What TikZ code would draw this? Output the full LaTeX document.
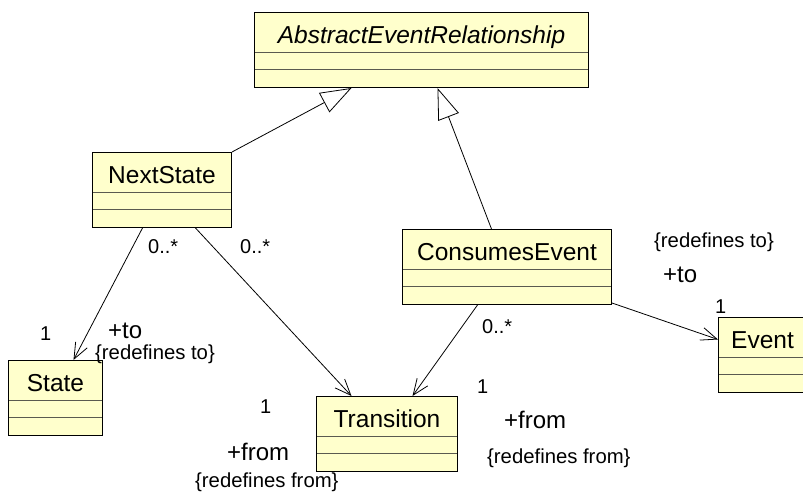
\documentclass[tikz,border=0pt]{standalone}
\usepackage{fontspec}
\setmainfont{Liberation Sans}
\usetikzlibrary{arrows.meta}
\definecolor{UmlFill}{HTML}{FFFFCC}
\definecolor{UmlLine}{HTML}{5A5A50}

\begin{document}
\begin{tikzpicture}[
  x=1pt, y=-1pt,
  cls/.style={draw=black,line width=1pt,fill=UmlFill,anchor=north west,inner sep=0pt,
    text height=31pt,text depth=44pt,font=\fontsize{24.5}{29}\selectfont,
    path picture={
      \draw[UmlLine,line width=0.8pt] ([yshift=35pt]path picture bounding box.south west) -- ([yshift=35pt]path picture bounding box.south east);
      \draw[UmlLine,line width=0.8pt] ([yshift=18pt]path picture bounding box.south west) -- ([yshift=18pt]path picture bounding box.south east);}},
  gen/.style={-{Triangle[open,length=31pt,width=22pt,fill=white]},line width=0.8pt},
  assoc/.style={-{Straight Barb[length=16pt,width=13pt]},line width=0.8pt},
  mult/.style={anchor=base west,inner sep=0pt,font=\fontsize{20}{24}\selectfont},
  role/.style={anchor=base west,inner sep=0pt,font=\fontsize{24}{28}\selectfont},
  cstr/.style={anchor=base west,inner sep=0pt,font=\fontsize{20.3}{24}\selectfont}
]
\useasboundingbox (0,0) rectangle (803,492);
% classes
\node[cls,minimum width=334pt] (aer) at (254,12) {\itshape AbstractEventRelationship};
\node[cls,minimum width=139pt] (ns) at (92,152) {NextState};
\node[cls,minimum width=209pt] (ce) at (402,229) {ConsumesEvent};
\node[cls,minimum width=94pt] (st) at (8,360) {State};
\node[cls,minimum width=141pt] (tr) at (316,396) {Transition};
\node[cls,minimum width=88pt] (ev) at (718,317) {Event};
% generalisations
\draw[gen] (ns.north east) -- ([xshift=-70pt]aer.south);
\draw[gen] ([xshift=-15.5pt]ce.north) -- ([xshift=16pt]aer.south);
% associations
\draw[assoc] ([xshift=-19.5pt]ns.south) -- ([xshift=18pt]st.north);
\draw[assoc] ([xshift=33.5pt]ns.south) -- ([xshift=-35.5pt]tr.north);
\draw[assoc] ([xshift=-29.5pt]ce.south) -- ([xshift=25.5pt]tr.north);
\draw[assoc] ([yshift=2pt]ce.south east) -- ([yshift=15.5pt]ev.west);
% multiplicities
\node[mult] (m1) at (148,253) {0..*};
\node[mult] (m2) at (240,253) {0..*};
\node[mult] (m3) at (482,333) {0..*};
\node[mult] (m4) at (40,340) {1};
\node[mult] (m5) at (260,413) {1};
\node[mult] (m6) at (477,393) {1};
\node[mult] (m7) at (715,313) {1};
% role names
\node[role] (r1) at (108,338) {+to};
\node[role] (r2) at (227,460) {+from};
\node[role] (r3) at (504,428) {+from};
\node[role] (r4) at (663,282) {+to};
% constraints
\node[cstr] (c1) at (95,359) {\{redefines to\}};
\node[cstr] (c2) at (195,487) {\{redefines from\}};
\node[cstr] (c3) at (487,463) {\{redefines from\}};
\node[cstr] (c4) at (654,247) {\{redefines to\}};
\end{tikzpicture}
\end{document}
